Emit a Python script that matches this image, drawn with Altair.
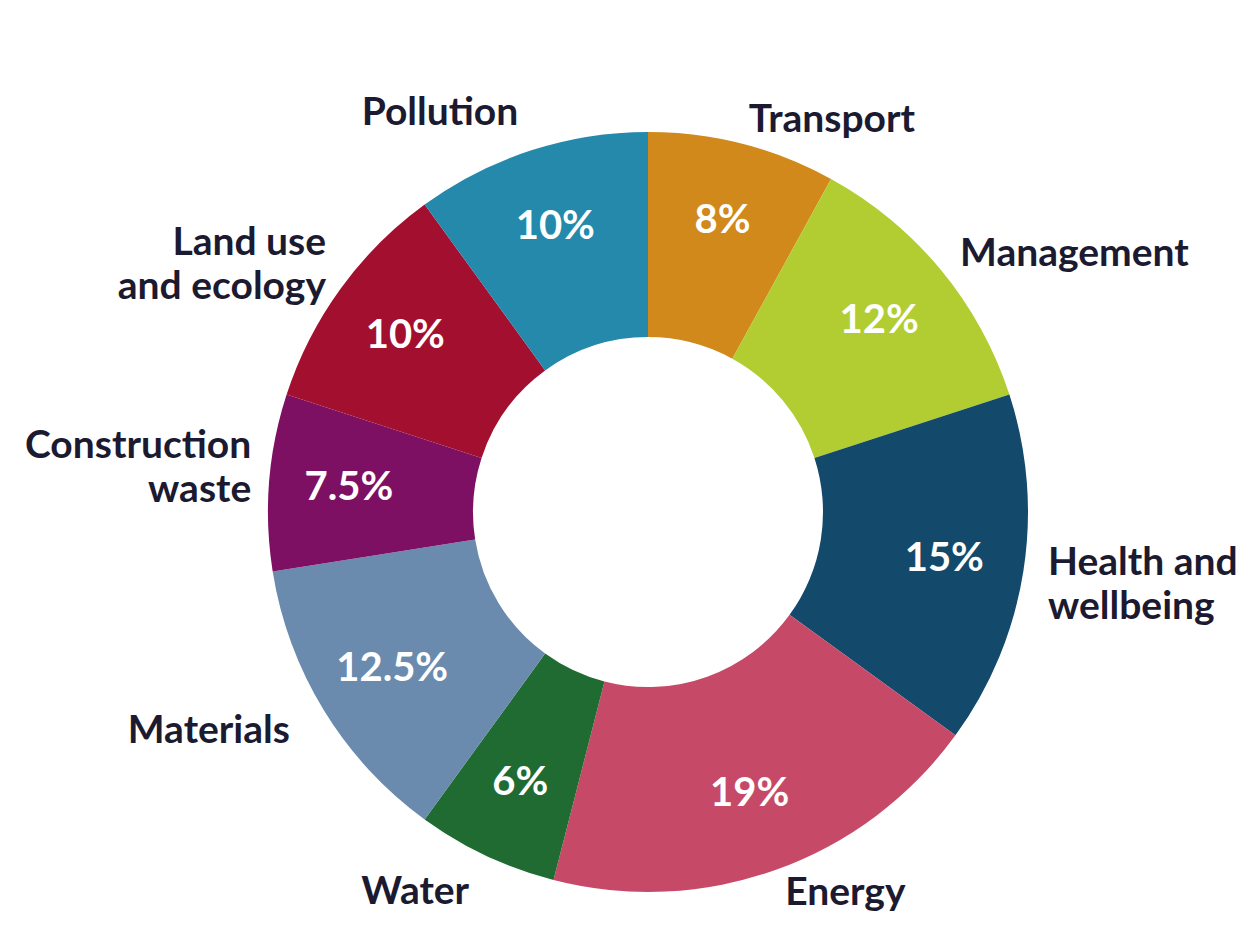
import altair as alt
import pandas as pd

categories = ["Transport", "Management", "Health and wellbeing", "Energy", "Water",
              "Materials", "Construction waste", "Land use and ecology", "Pollution"]
name_labels = ["Transport", "Management", "Health and\nwellbeing", "Energy", "Water",
               "Materials", "Construction\nwaste", "Land use\nand ecology", "Pollution"]
shares = [8, 12, 15, 19, 6, 12.5, 7.5, 10, 10]
colors = ["#d0891a", "#b2cd32", "#134a6b", "#c64a68", "#1f6b32",
          "#6a8bad", "#7e1063", "#a3102f", "#2489ab"]

total = sum(shares)
half = total / 2

df = pd.DataFrame({
    "category": categories,
    "name": name_labels,
    "share": shares,
    "order": list(range(len(categories))),
})

FONT = "Lato, 'Liberation Sans Narrow', 'DejaVu Sans Condensed', sans-serif"
NAME_SIZE = 39
LINE_H = 44
theta_scale = alt.Scale(domain=[0, total])

base = alt.Chart(df).transform_window(
    cum="sum(share)", sort=[alt.SortField("order")], frame=[None, 0]
).transform_calculate(
    start="datum.cum - datum.share",
    mid="datum.cum - datum.share / 2",
    pct="format(datum.share, '~g') + '%'",
    multi="indexof(datum.name, '\\n') >= 0",
)

arcs = base.mark_arc(innerRadius=175, outerRadius=380, stroke=None).encode(
    theta=alt.Theta("start:Q", scale=theta_scale, stack=None),
    theta2="cum:Q",
    color=alt.Color("category:N", scale=alt.Scale(domain=categories, range=colors), legend=None),
)

pct_text = base.mark_text(
    radius=300, font=FONT, fontSize=40, fontWeight="bold", color="white",
    align="center", baseline="middle",
).encode(
    theta=alt.Theta("mid:Q", scale=theta_scale, stack=None),
    text="pct:N",
)


def names(side_filter, multi, align, radius, dy):
    return base.transform_filter(side_filter).transform_filter(
        "datum.multi" if multi else "!datum.multi"
    ).mark_text(
        radius=radius, font=FONT, fontSize=NAME_SIZE, fontWeight="bold", color="#1b1a30",
        align=align, baseline="middle", lineBreak="\n", lineHeight=LINE_H, dy=dy,
    ).encode(
        theta=alt.Theta("mid:Q", scale=theta_scale, stack=None),
        text="name:N",
    )


right_side = f"datum.mid < {half}"
left_side = f"datum.mid >= {half}"

layers = [
    arcs,
    pct_text,
    names(right_side, False, "left", 405, 0),
    names(right_side, True, "left", 405, -12),
    names(left_side, False, "right", 420, 0),
    names(left_side, True, "right", 398, -35),
]

chart = alt.layer(*layers).properties(
    width=1190,
    height=860,
    padding={"left": 45, "top": 74, "right": 4, "bottom": 0},
    autosize=alt.AutoSizeParams(type="none"),
    background="white",
).configure_view(stroke=None)

chart.save("out.html", embed_options={"renderer": "svg", "actions": False})
